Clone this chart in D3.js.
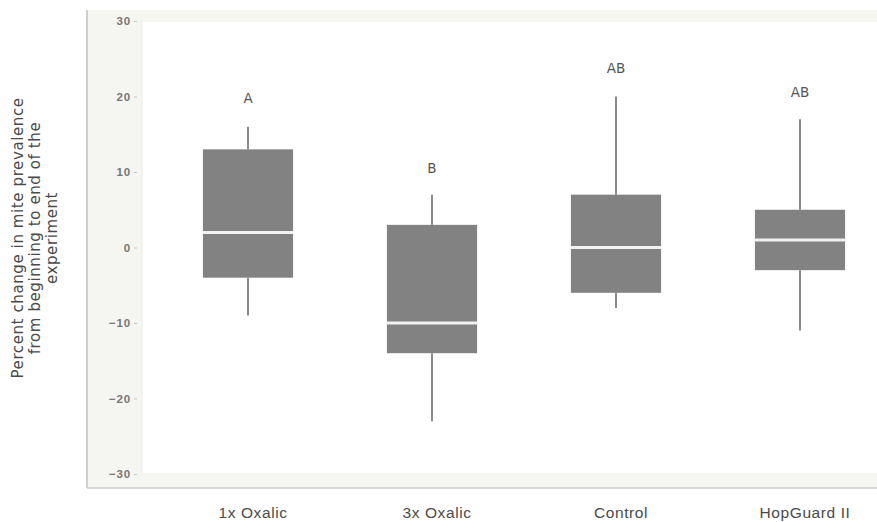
<!DOCTYPE html>
<html>
<head>
<meta charset="utf-8">
<script src="https://cdn.jsdelivr.net/npm/d3@7"></script>
<style>
  html, body { margin: 0; padding: 0; background: #ffffff; }
  svg { display: block; font-family: "DejaVu Sans", "Open Sans", sans-serif; }
</style>
</head>
<body>
<svg id="chart" width="877" height="522"></svg>
<script>
// Treatment groups and their box-plot summaries (percent change)
const categories = ["1x Oxalic", "3x Oxalic", "Control", "HopGuard II"];
const whiskerLow = [-9, -23, -8, -11];
const q1 = [-4, -14, -6, -3];
const median = [2, -10, 0, 1];
const q3 = [13, 3, 7, 5];
const whiskerHigh = [16, 7, 20, 17];
const letters = ["A", "B", "AB", "AB"];
const letterValue = [19.8, 10.5, 23.8, 20.5];
const yTicks = [30, 20, 10, 0, -10, -20, -30];

const svg = d3.select("#chart");

// Frame geometry
const frame = { left: 87, top: 10, right: 877, bottom: 488 };
const plot = { left: 142, top: 22, right: 877, bottom: 473 };

const y = d3.scaleLinear().domain([-30, 30]).range([474, 21]);
const x = d3.scaleBand().domain(categories).range([156, 892]).paddingInner(0.51).paddingOuter(0.255);

// Outer shaded panel and white plotting area
svg.append("rect")
  .attr("x", frame.left).attr("y", frame.top)
  .attr("width", frame.right - frame.left).attr("height", frame.bottom - frame.top)
  .attr("fill", "#f5f5f1");
svg.append("rect")
  .attr("x", plot.left).attr("y", plot.top)
  .attr("width", plot.right - plot.left).attr("height", plot.bottom - plot.top)
  .attr("fill", "#ffffff");
svg.append("line")
  .attr("x1", plot.left).attr("x2", plot.left)
  .attr("y1", plot.top).attr("y2", plot.bottom)
  .attr("stroke", "#ebebe7").attr("stroke-width", 1);
svg.append("line")
  .attr("x1", frame.left).attr("x2", frame.left)
  .attr("y1", frame.top).attr("y2", frame.bottom)
  .attr("stroke", "#cfcfcb").attr("stroke-width", 2);
svg.append("line")
  .attr("x1", frame.left).attr("x2", frame.right)
  .attr("y1", frame.bottom).attr("y2", frame.bottom)
  .attr("stroke", "#d8d8d4").attr("stroke-width", 2);

// Y axis
const yAxis = d3.axisLeft(y).tickValues(yTicks).tickSize(3).tickPadding(3)
  .tickFormat(d3.format("d"));
const yg = svg.append("g").attr("transform", `translate(${plot.left - 5},0)`).call(yAxis);
yg.select(".domain").remove();
yg.selectAll(".tick line").attr("stroke", "#c4c4c4");
yg.selectAll(".tick text").attr("fill", "#777").attr("font-size", 11.5)
  .attr("font-weight", "bold").attr("letter-spacing", 0.8);

// X axis labels
const xAxis = d3.axisBottom(x).tickSize(0).tickPadding(0);
const xg = svg.append("g").attr("transform", `translate(0,510)`).call(xAxis);
xg.select(".domain").remove();
xg.selectAll(".tick text").attr("fill", "#4a4a4a").attr("font-size", 15.5)
  .attr("letter-spacing", 0.6).attr("dx", 5).attr("dy", "0.5em");

// Y axis title
const title = svg.append("text")
  .attr("transform", `translate(35,238) rotate(-90)`)
  .attr("text-anchor", "middle")
  .attr("fill", "#4a4a4a").attr("font-size", 15).attr("letter-spacing", 0.6);
["Percent change in mite prevalence", "from beginning to end of the", "experiment"].forEach((t, i) => {
  title.append("tspan").attr("x", 0).attr("dy", i === 0 ? "-0.8em" : "1.13em").text(t);
});

// Boxes
const data = categories.map((c, i) => ({
  c, lo: whiskerLow[i], q1: q1[i], med: median[i], q3: q3[i], hi: whiskerHigh[i],
  letter: letters[i], lv: letterValue[i]
}));
const g = svg.append("g");
const cx = d => x(d.c) + x.bandwidth() / 2;

g.selectAll("line.whisker-hi").data(data).join("line")
  .attr("x1", cx).attr("x2", cx)
  .attr("y1", d => y(d.hi)).attr("y2", d => y(d.q3))
  .attr("stroke", "#8a8a8a").attr("stroke-width", 2);
g.selectAll("line.whisker-lo").data(data).join("line")
  .attr("x1", cx).attr("x2", cx)
  .attr("y1", d => y(d.q1)).attr("y2", d => y(d.lo))
  .attr("stroke", "#8a8a8a").attr("stroke-width", 2);
g.selectAll("rect.box").data(data).join("rect")
  .attr("x", d => x(d.c)).attr("width", x.bandwidth())
  .attr("y", d => y(d.q3)).attr("height", d => y(d.q1) - y(d.q3))
  .attr("fill", "#828282");
g.selectAll("line.median").data(data).join("line")
  .attr("x1", d => x(d.c)).attr("x2", d => x(d.c) + x.bandwidth())
  .attr("y1", d => y(d.med)).attr("y2", d => y(d.med))
  .attr("stroke", "#f2f2f2").attr("stroke-width", 3);
g.selectAll("text.letter").data(data).join("text")
  .attr("x", cx).attr("y", d => y(d.lv))
  .attr("text-anchor", "middle").attr("dy", "0.35em")
  .attr("fill", "#555").attr("font-size", 13.5)
  .text(d => d.letter);
</script>
</body>
</html>
